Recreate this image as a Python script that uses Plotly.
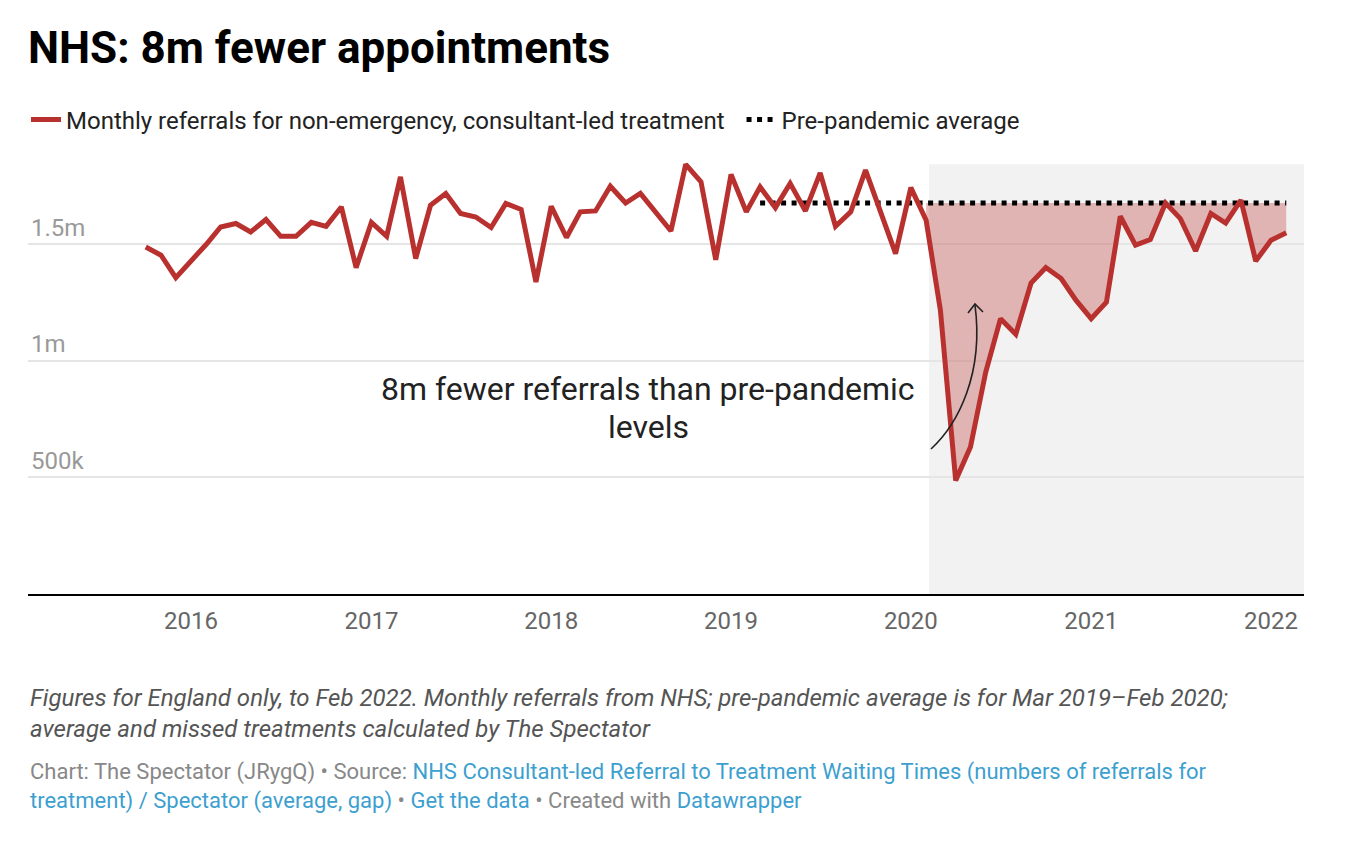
import pandas as pd
import plotly.graph_objects as go

# ---------------- data ----------------
start_month = "2015-10-01"
referrals_m = [
    1.488, 1.453, 1.357, 1.426, 1.500, 1.574, 1.589, 1.553, 1.606, 1.534,
    1.534, 1.594, 1.577, 1.660, 1.400, 1.594, 1.534, 1.789, 1.439, 1.667,
    1.718, 1.632, 1.617, 1.572, 1.675, 1.649, 1.338, 1.663, 1.529, 1.639,
    1.643, 1.749, 1.677, 1.718, 1.637, 1.557, 1.843, 1.768, 1.433, 1.800,
    1.639, 1.746, 1.657, 1.761, 1.643, 1.806, 1.577, 1.639, 1.818, 1.639,
    1.460, 1.743, 1.603, 1.217, 0.487, 0.630, 0.952, 1.181, 1.114, 1.334,
    1.400, 1.353, 1.260, 1.181, 1.252, 1.620, 1.496, 1.520, 1.677, 1.610,
    1.471, 1.632, 1.591, 1.689, 1.428, 1.517, 1.549,
]
pre_pandemic_avg_m = 1.677
avg_start = "2019-03-01"
gap_start = "2020-02-01"
highlight_start = "2020-02-07"
tick_years = ["2016", "2017", "2018", "2019", "2020", "2021", "2022"]
y_tick_vals = [500000, 1000000, 1500000]
y_tick_text = ["500k", "1m", "1.5m"]

months = pd.date_range(start_month, periods=len(referrals_m), freq="MS")
values = [v * 1e6 for v in referrals_m]
avg = pre_pandemic_avg_m * 1e6

avg_x = [m for m in months if m >= pd.Timestamp(avg_start)]
gap_x = [m for m in months if m >= pd.Timestamp(gap_start)]
gap_y = [v for m, v in zip(months, values) if m >= pd.Timestamp(gap_start)]

RED = "#b8312f"
FONT = "Roboto"
LINK = "#3d9fcf"

# layout geometry (figure pixels); page has an 8px body margin
OX, OY = 8, 8
W, H = 1342, 854
L, R, T, B = 20, 46, 143, 268
PW, PH = W - L - R, H - T - B


def px(xs):
    """screen x pixel -> paper fraction"""
    return (xs - OX - L) / PW


def py(ys):
    """screen y pixel -> paper fraction"""
    return (H - B - (ys - OY)) / PH


fig = go.Figure()

# fill base (average) for the gap
fig.add_trace(go.Scatter(x=gap_x, y=[avg] * len(gap_x), mode="lines",
                         line=dict(width=0, color="rgba(0,0,0,0)"),
                         showlegend=False, hoverinfo="skip"))
fig.add_trace(go.Scatter(x=gap_x, y=gap_y, mode="lines",
                         line=dict(width=0, color="rgba(0,0,0,0)"),
                         fill="tonexty", fillcolor="rgba(185,49,47,0.32)",
                         showlegend=False, hoverinfo="skip"))
# pre-pandemic average
fig.add_trace(go.Scatter(x=avg_x, y=[avg] * len(avg_x), mode="lines",
                         name="Pre-pandemic average", legendrank=2,
                         line=dict(color="#000000", width=5, dash="5px,5.5px")))
# main line
fig.add_trace(go.Scatter(x=months, y=values, mode="lines",
                         name="Monthly referrals for non-emergency, consultant-led treatment\u00a0\u00a0",
                         legendrank=1,
                         line=dict(color=RED, width=5)))

# highlighted pandemic period
fig.add_shape(type="rect", xref="x", yref="y", x0=highlight_start, x1="2022-03-09",
              y0=0, y1=max(values), fillcolor="#f2f2f2", line=dict(width=0), layer="below")

# curved arrow
curve = "M {:.5f},{:.5f} C {:.5f},{:.5f} {:.5f},{:.5f} {:.5f},{:.5f}".format(
    px(931), py(449), px(958), py(424), px(984), py(374), px(975), py(305))
fig.add_shape(type="path", xref="paper", yref="paper", path=curve,
              line=dict(color="#222222", width=1.6))
head = "M {:.5f},{:.5f} L {:.5f},{:.5f} L {:.5f},{:.5f}".format(
    px(968), py(313), px(975), py(304), px(983), py(312))
fig.add_shape(type="path", xref="paper", yref="paper", path=head,
              line=dict(color="#222222", width=1.6))

annotations = [
    dict(text="8m fewer referrals than pre-pandemic", x=px(648), y=py(389),
         xref="paper", yref="paper", xanchor="center", yanchor="middle", showarrow=False,
         font=dict(family=FONT, size=32, color="#222222")),
    dict(text="levels", x=px(648), y=py(427),
         xref="paper", yref="paper", xanchor="center", yanchor="middle", showarrow=False,
         font=dict(family=FONT, size=32, color="#222222")),
    dict(text="<i>Figures for England only, to Feb 2022. Monthly referrals from NHS; pre-pandemic average is for Mar 2019–Feb 2020;"
              "<br>average and missed treatments calculated by The Spectator</i>",
         x=px(28), y=py(682), xref="paper", yref="paper", xanchor="left", yanchor="top",
         showarrow=False, align="left", font=dict(family=FONT, size=24, color="#555555")),
    dict(text=f"Chart: The Spectator (JRygQ) • Source: <span style='color:{LINK}'>NHS Consultant-led Referral to Treatment Waiting Times (numbers of referrals for</span>"
              f"<br><span style='color:{LINK}'>treatment) / Spectator (average, gap)</span> • <span style='color:{LINK}'>Get the data</span> • Created with <span style='color:{LINK}'>Datawrapper</span>",
         x=px(28), y=py(757), xref="paper", yref="paper", xanchor="left", yanchor="top",
         showarrow=False, align="left", font=dict(family=FONT, size=22, color="#888888")),
]

fig.update_layout(
    width=W, height=H,
    margin=dict(l=L, r=R, t=T, b=B),
    paper_bgcolor="white", plot_bgcolor="white",
    font=dict(family=FONT),
    title=dict(text="<b>NHS: 8m fewer appointments</b>", xref="container", yref="container",
               x=(28 - OX) / W, xanchor="left", y=1 - (48 - OY) / H, yanchor="middle",
               font=dict(family=FONT, size=44, color="#000000")),
    showlegend=True,
    legend=dict(orientation="h", x=px(26), xanchor="left", y=py(120), yanchor="middle",
                font=dict(family=FONT, size=24, color="#222222"), itemwidth=30,
                bgcolor="rgba(0,0,0,0)", traceorder="normal"),
    annotations=annotations,
    xaxis=dict(type="date", range=["2015-02-04", "2022-03-09"],
               tickvals=[f"{y}-01-01" for y in tick_years], ticktext=tick_years,
               showgrid=False, zeroline=False, showline=True, linecolor="#000000", linewidth=2,
               ticks="outside", ticklen=4, tickcolor="rgba(0,0,0,0)",
               tickfont=dict(family=FONT, size=24, color="#666666")),
    yaxis=dict(range=[0, 1.9e6], tickvals=y_tick_vals, ticktext=y_tick_text,
               ticklabelposition="inside top", showgrid=True, gridcolor="#e5e5e5", gridwidth=2,
               zeroline=False, showline=False, ticks="",
               tickfont=dict(family=FONT, size=24, color="#999999")),
    hovermode=False,
)

fig.write_html("out.html")
